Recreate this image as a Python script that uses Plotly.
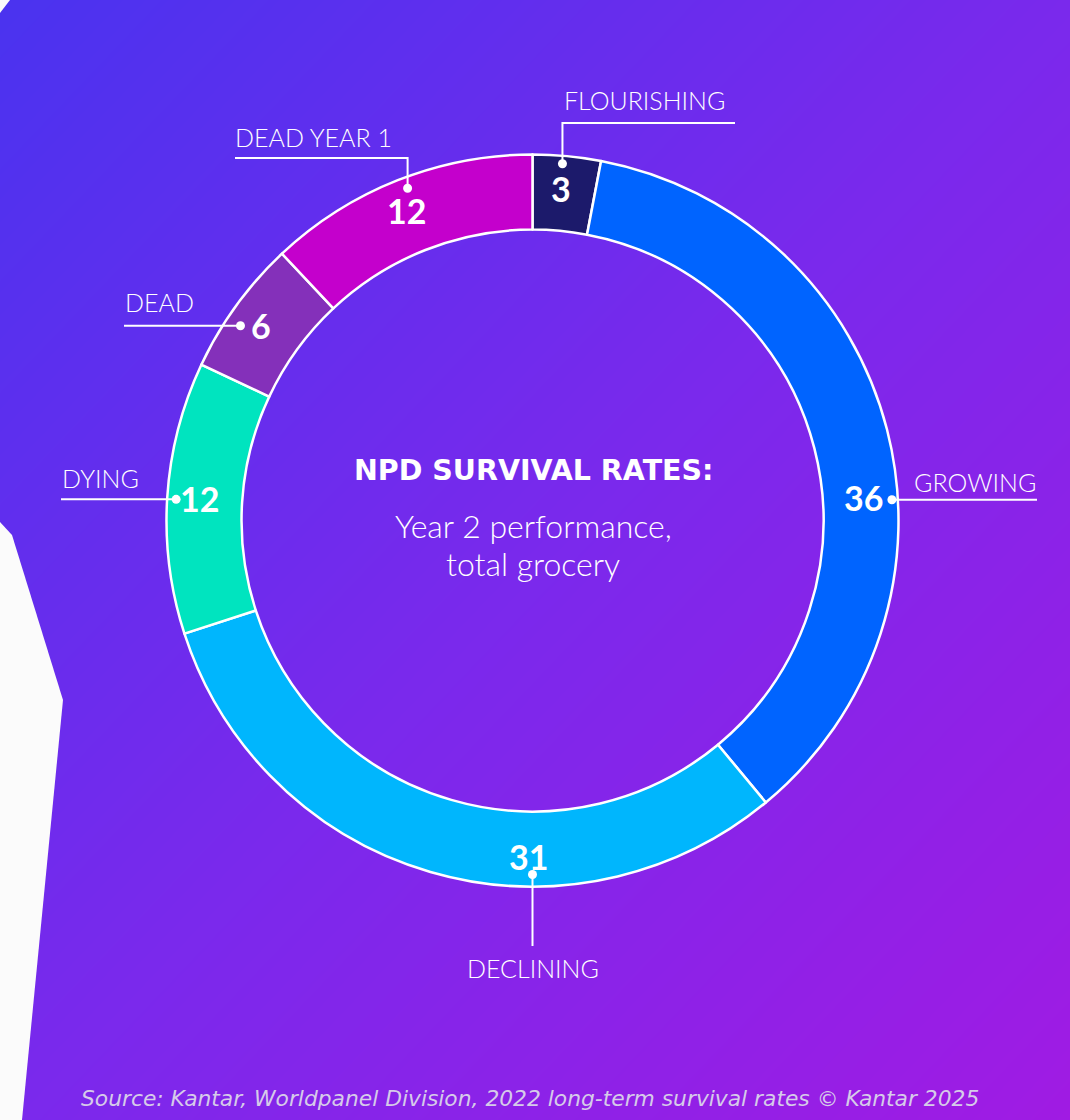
import plotly.graph_objects as go
import math

# ---------------- data ----------------
categories = ["FLOURISHING", "GROWING", "DECLINING", "DYING", "DEAD", "DEAD YEAR 1"]
values = [3, 36, 31, 12, 6, 12]
colors = ["#1c1a6b", "#0064ff", "#00b6fd", "#00e4bf", "#8430ba", "#c400cc"]

title_main = "NPD SURVIVAL RATES:"
title_sub = ["Year 2 performance,", "total grocery"]
source_text = "Source: Kantar, Worldpanel Division, 2022 long-term survival rates © Kantar 2025"

# ---------------- layout geometry (style) ----------------
W, H = 1070, 1120
CX, CY, R = 532.5, 520.5, 366.0
HOLE = 0.795


def px(x, y):
    return x / W, 1 - y / H


# dot angle (deg clockwise from 12 o'clock) and radius, leader path, label anchor
label_style = {
    "FLOURISHING": dict(ang=4.8, rad=358, elbow=[(None, 123), (735, None)],
                        lab=(562, 100), lab_anchor="left"),
    "DEAD YEAR 1": dict(ang=339.4, rad=355, elbow=[(None, 158), (235, None)],
                        lab=(233, 137), lab_anchor="left"),
    "DEAD": dict(ang=303.7, rad=351, elbow=[(124, None)],
                 lab=(123, 302), lab_anchor="left"),
    "DYING": dict(ang=273.4, rad=357, elbow=[(61, None)],
                  lab=(60, 478), lab_anchor="left"),
    "GROWING": dict(ang=86.7, rad=360, elbow=[(1037, None)],
                    lab=(1038, 482), lab_anchor="right"),
    "DECLINING": dict(ang=180.0, rad=354, elbow=[(None, 946)],
                      lab=(533, 968), lab_anchor="center"),
}
num_offsets = {  # pixel offsets of number text from its dot
    "FLOURISHING": (-1, 25),
    "DEAD YEAR 1": (-1, 22),
    "DEAD": (21, 0),
    "DYING": (23, -1),
    "GROWING": (-28, -2),
    "DECLINING": (-4, -18),
}

fig = go.Figure()

# background gradient via heatmap on hidden axes
fig.add_trace(go.Heatmap(
    x=[0, 1], y=[0, 1], z=[[1, 2], [0, 1]],
    colorscale=[[0, "#4a33ef"], [0.5, "#7a29ec"], [1, "#a01be3"]],
    zsmooth="best", showscale=False, hoverinfo="skip",
    xaxis="x", yaxis="y",
))

# donut
fig.add_trace(go.Pie(
    labels=categories, values=values, sort=False, direction="clockwise",
    rotation=0, hole=HOLE,
    marker=dict(colors=colors, line=dict(color="white", width=2.5)),
    textinfo="none", hoverinfo="label+value", showlegend=False,
    domain=dict(x=[(CX - R) / W, (CX + R) / W],
                y=[(H - CY - R) / H, (H - CY + R) / H]),
))

shapes = []
annotations = []

LABEL_FONT = dict(family="Lato", size=25, color="white", weight=300)
NUM_FONT = dict(family="Lato", size=34, color="white", weight="bold")

for cat, val in zip(categories, values):
    st = label_style[cat]
    a = math.radians(st["ang"])
    dx, dy = CX + st["rad"] * math.sin(a), CY - st["rad"] * math.cos(a)
    # leader line
    pts = [(dx, dy)]
    cur = (dx, dy)
    for ex, ey in st["elbow"]:
        nx = cur[0] if ex is None else ex
        ny = cur[1] if ey is None else ey
        pts.append((nx, ny))
        cur = (nx, ny)
    path = "M " + " L ".join(f"{px(x, y)[0]:.5f},{px(x, y)[1]:.5f}" for x, y in pts)
    shapes.append(dict(type="path", path=path, xref="paper", yref="paper",
                       line=dict(color="white", width=2)))
    # dot
    rr = 4.5
    x0, y0 = px(dx - rr, dy + rr)
    x1, y1 = px(dx + rr, dy - rr)
    shapes.append(dict(type="circle", xref="paper", yref="paper", x0=x0, y0=y0, x1=x1, y1=y1,
                       fillcolor="white", line=dict(color="white", width=0)))
    # number
    ox, oy = num_offsets[cat]
    nx, ny = px(dx + ox, dy + oy)
    annotations.append(dict(x=nx, y=ny, xref="paper", yref="paper", text=f"<b>{val}</b>",
                            showarrow=False, font=NUM_FONT, xanchor="center", yanchor="middle"))
    # category label
    lx, ly = px(*st["lab"])
    annotations.append(dict(x=lx, y=ly, xref="paper", yref="paper", text=cat, showarrow=False,
                            font=LABEL_FONT, xanchor=st["lab_anchor"], yanchor="middle"))

# centre titles
tx, ty = px(533, 471)
annotations.append(dict(x=tx, y=ty, xref="paper", yref="paper", text=f"<b>{title_main}</b>",
                        showarrow=False, font=dict(family="DejaVu Sans", size=28.5, color="white", weight="bold"),
                        xanchor="center", yanchor="middle"))
for i, line in enumerate(title_sub):
    sx, sy = px(533, 525 + 38 * i)
    annotations.append(dict(x=sx, y=sy, xref="paper", yref="paper", text=line, showarrow=False,
                            font=dict(family="Lato", size=32, color="white", weight=300),
                            xanchor="center", yanchor="middle"))

# source
sx, sy = px(530, 1098)
annotations.append(dict(x=sx, y=sy, xref="paper", yref="paper", text=f"<i>{source_text}</i>",
                        showarrow=False, font=dict(family="DejaVu Sans", size=21.8, color="#d6cbe9"),
                        xanchor="center", yanchor="middle"))

# white paper cut-outs on the left
def poly(points):
    return "M " + " L ".join(f"{px(x, y)[0]:.5f},{px(x, y)[1]:.5f}" for x, y in points) + " Z"

shapes.append(dict(type="path", xref="paper", yref="paper", layer="above",
                   path=poly([(0, 522), (12, 535), (63, 700), (22, 1120), (0, 1120)]),
                   fillcolor="#fbfbfb", line=dict(width=0)))
shapes.append(dict(type="path", xref="paper", yref="paper", layer="above",
                   path=poly([(0, 0), (10, 0), (0, 13)]),
                   fillcolor="#fbfbfb", line=dict(width=0)))

fig.update_layout(
    width=W, height=H, margin=dict(l=0, r=0, t=0, b=0),
    paper_bgcolor="#7028ea", plot_bgcolor="#7028ea",
    xaxis=dict(domain=[0, 1], range=[0, 1], visible=False, fixedrange=True),
    yaxis=dict(domain=[0, 1], range=[0, 1], visible=False, fixedrange=True),
    shapes=shapes, annotations=annotations,
)

fig.write_html("out.html", config={"displayModeBar": False},
               post_script="document.body.style.margin='0';document.body.style.overflow='hidden';")
